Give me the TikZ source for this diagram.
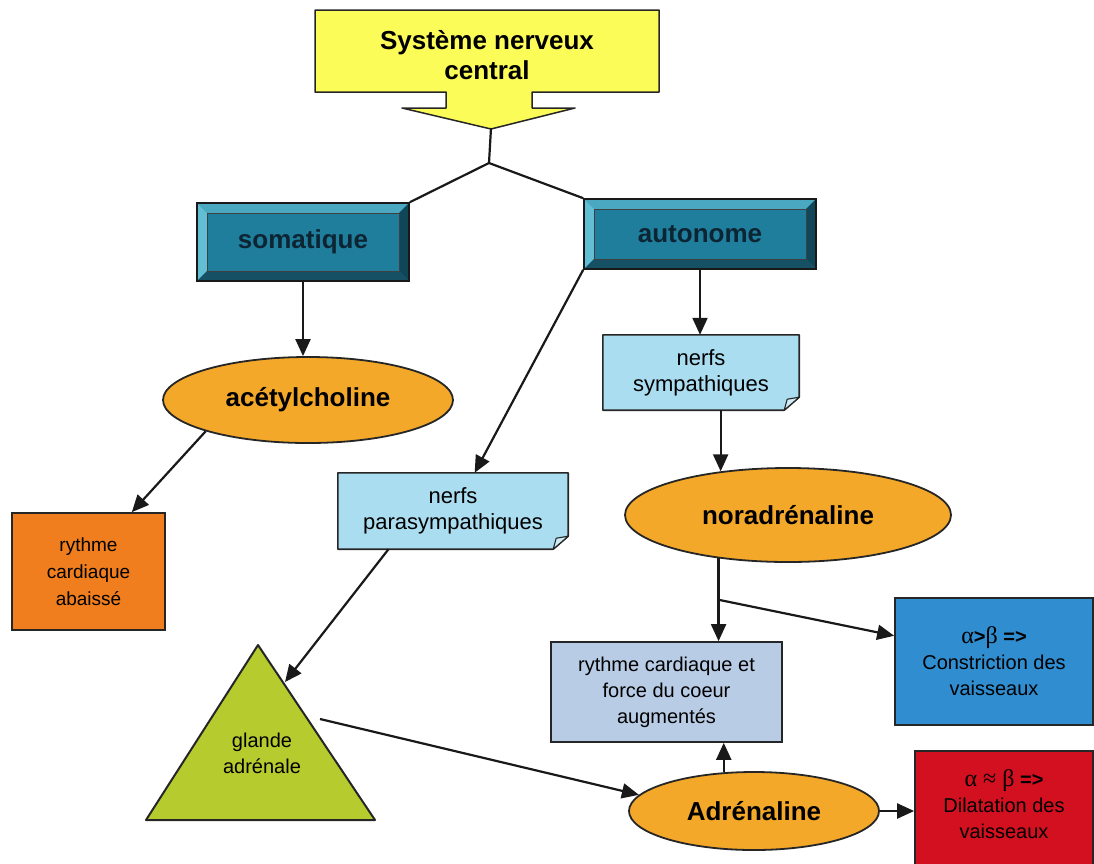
\documentclass[tikz,border=0pt]{standalone}
\usepackage{fontspec}
\setmainfont{Liberation Sans}
\newfontfamily\symfont{Liberation Serif}
\usetikzlibrary{arrows.meta,shapes.geometric,calc,backgrounds}

\definecolor{cnsyellow}{HTML}{FCFC58}
\definecolor{tealface}{HTML}{1F7E9C}
\definecolor{tealtop}{HTML}{4AA8C0}
\definecolor{tealleft}{HTML}{62BED3}
\definecolor{tealright}{HTML}{0F4658}
\definecolor{tealbottom}{HTML}{155064}
\definecolor{tealtext}{HTML}{0D2433}
\definecolor{hormone}{HTML}{F4A829}
\definecolor{nerveblue}{HTML}{AADDF0}
\definecolor{heartblue}{HTML}{B9CCE6}
\definecolor{vesselblue}{HTML}{2F8DD0}
\definecolor{vesselred}{HTML}{D3101F}
\definecolor{slowheart}{HTML}{F07E1E}
\definecolor{glandgreen}{HTML}{B6CC2E}

% note sheet with a folded lower right corner, drawn behind its text node
\newcommand\dogear[2]{%
  \fill[#2] (#1.north west) -- (#1.north east) -- ($(#1.south east)+(0,-13)$)
    -- ($(#1.south east)+(-15,0)$) -- (#1.south west) -- cycle;
  \draw[line width=1.6pt, black!85, line join=round] (#1.north west) -- (#1.north east)
    -- ($(#1.south east)+(0,-13)$) -- ($(#1.south east)+(-15,0)$) -- (#1.south west) -- cycle;
  \filldraw[fill=#2!55!white, draw=black!85, line width=1.1pt, line join=round]
    ($(#1.south east)+(0,-13)$) -- ($(#1.south east)+(-15,0)$) -- ($(#1.south east)+(-12,-11)$) -- cycle;
}

\begin{document}
\begin{tikzpicture}[x=1pt,y=-1pt,
  link/.style={line width=2.2pt, draw=black!90},
  arr/.style={link, -{Triangle[length=17pt,width=15pt]}},
  bevelbox/.style={draw=black!90, line width=1.6pt, fill=tealface, text=tealtext,
    font=\bfseries\fontsize{26}{30}\selectfont, inner sep=0pt,
    path picture={
      \path (path picture bounding box.north west) coordinate (bnw)
            (path picture bounding box.north east) coordinate (bne)
            (path picture bounding box.south east) coordinate (bse)
            (path picture bounding box.south west) coordinate (bsw);
      \fill[tealtop] (bnw) -- (bne) -- ($(bne)+(-10,10)$) -- ($(bnw)+(10,10)$) -- cycle;
      \fill[tealleft] (bnw) -- ($(bnw)+(10,10)$) -- ($(bsw)+(10,-10)$) -- (bsw) -- cycle;
      \fill[tealright] (bne) -- (bse) -- ($(bse)+(-10,-10)$) -- ($(bne)+(-10,10)$) -- cycle;
      \fill[tealbottom] (bsw) -- ($(bsw)+(10,-10)$) -- ($(bse)+(-10,-10)$) -- (bse) -- cycle;
      \draw[line width=0.9pt, black!75] ($(bnw)+(10,10)$) rectangle ($(bse)+(-10,-10)$);
    }},
  hormonal/.style={ellipse, draw=black!85, line width=1.8pt, fill=hormone,
    font=\bfseries\fontsize{26}{30}\selectfont, inner sep=0pt},
  notetext/.style={align=center, font=\fontsize{22}{26}\selectfont, inner sep=0pt},
  effect/.style={draw=black!85, line width=1.7pt, align=center,
    font=\fontsize{20}{26}\selectfont, inner sep=0pt}
]
\useasboundingbox (0,0) rectangle (1094,863);
\clip (0,0) rectangle (1094,863);

% central nervous system: yellow down-arrow callout
\filldraw[fill=cnsyellow, draw=black!85, line width=1.5pt, line join=round]
  (315,10) -- (659,10) -- (659,92) -- (532,92) -- (532,108) -- (575,108)
  -- (491,129) -- (402,108) -- (446,108) -- (446,92) -- (315,92) -- cycle;
\node[font=\bfseries\fontsize{26}{30}\selectfont, align=center] (cns) at (487,55)
  {Système nerveux\\central};
\coordinate (cnstip) at (491,128);
\coordinate (junc) at (489,163);

% the two divisions
\node[bevelbox, minimum width=212pt, minimum height=78pt] (soma) at (303,242) {somatique};
\node[bevelbox, minimum width=232pt, minimum height=70pt] (auto) at (700,234) {autonome};

% messengers
\node[hormonal, minimum width=290pt, minimum height=86pt] (acetyl) at (308,400) {acétylcholine};
\node[hormonal, minimum width=326pt, minimum height=94pt] (nora) at (788,515) {noradrénaline};
\node[hormonal, minimum width=250pt, minimum height=78pt] (adren) at (754,811) {Adrénaline};

% nerves
\node[notetext, minimum width=196pt, minimum height=75pt] (sym) at (701,372.5) {nerfs\\sympathiques};
\node[notetext, minimum width=230pt, minimum height=76pt] (para) at (453,511) {nerfs\\parasympathiques};
\begin{scope}[on background layer]
  \dogear{sym}{nerveblue}
  \dogear{para}{nerveblue}
\end{scope}

% effects
\node[effect, fill=slowheart, minimum width=153pt, minimum height=117pt,
  font=\fontsize{19}{27}\selectfont] (slow) at (88.5,571.5) {rythme\\cardiaque\\abaissé};
\node[effect, fill=heartblue, minimum width=231pt, minimum height=100pt] (heart) at (666.5,692)
  {rythme cardiaque et\\force du coeur\\augmentés};
\node[effect, fill=vesselblue, minimum width=198pt, minimum height=127pt] (vaso) at (994,661.5)
  {{\symfont\fontsize{24}{26}\selectfont α}\textbf{>}{\symfont\fontsize{24}{26}\selectfont β} \textbf{=>}\\Constriction des\\vaisseaux};
\node[effect, fill=vesselred, minimum width=178pt, minimum height=125pt, anchor=north] (dilat) at (1004,750) {};
\node[align=center, font=\fontsize{20}{26}\selectfont, inner sep=0pt] (dilattext) at (1004,804)
  {{\symfont\fontsize{24}{26}\selectfont α ≈ β} \textbf{=>}\\Dilatation des\\vaisseaux};

% adrenal gland
\filldraw[fill=glandgreen, draw=black!85, line width=2pt, line join=round]
  (258,645) -- (375,820) -- (146,820) -- cycle;
\node[align=center, font=\fontsize{20}{26}\selectfont, inner sep=0pt] (gland) at (262,753)
  {glande\\adrénale};
\coordinate (glandin) at (285,682);
\coordinate (glandout) at (320,719);

% connectors
\draw[link] (cnstip) -- (junc) -- (soma.north east);
\draw[link] (junc) -- (auto.north west);
\draw[arr] (soma.south) -- (soma.south |- acetyl.north);
\draw[arr] (acetyl.197) -- ($(slow.north west)!0.78!(slow.north east)$);
\draw[arr] (auto.south) -- (auto.south |- sym.north);
\coordinate (symfoot) at ($(sym.south west)!0.6!(sym.south east)$);
\draw[arr] (symfoot) -- (symfoot |- nora.147);
\coordinate (norafoot) at (nora.212);
\coordinate (branch) at ($(norafoot)!0.5!(norafoot |- heart.north)$);
\draw[arr] (norafoot) -- (norafoot |- heart.north);
\draw[arr] (branch) -- ($(vaso.north west)!0.3!(vaso.south west)$);
\draw[arr] (auto.south west) -- ($(para.north west)!0.594!(para.north east)$);
\draw[arr] ($(para.south west)!0.22!(para.south east)$) -- (glandin);
\draw[arr] (glandout) -- (adren.172);
\draw[arr] (adren.128) -- (adren.128 |- heart.south);
\draw[arr] (adren.east) -- (dilat.west |- adren.east);
\end{tikzpicture}
\end{document}
